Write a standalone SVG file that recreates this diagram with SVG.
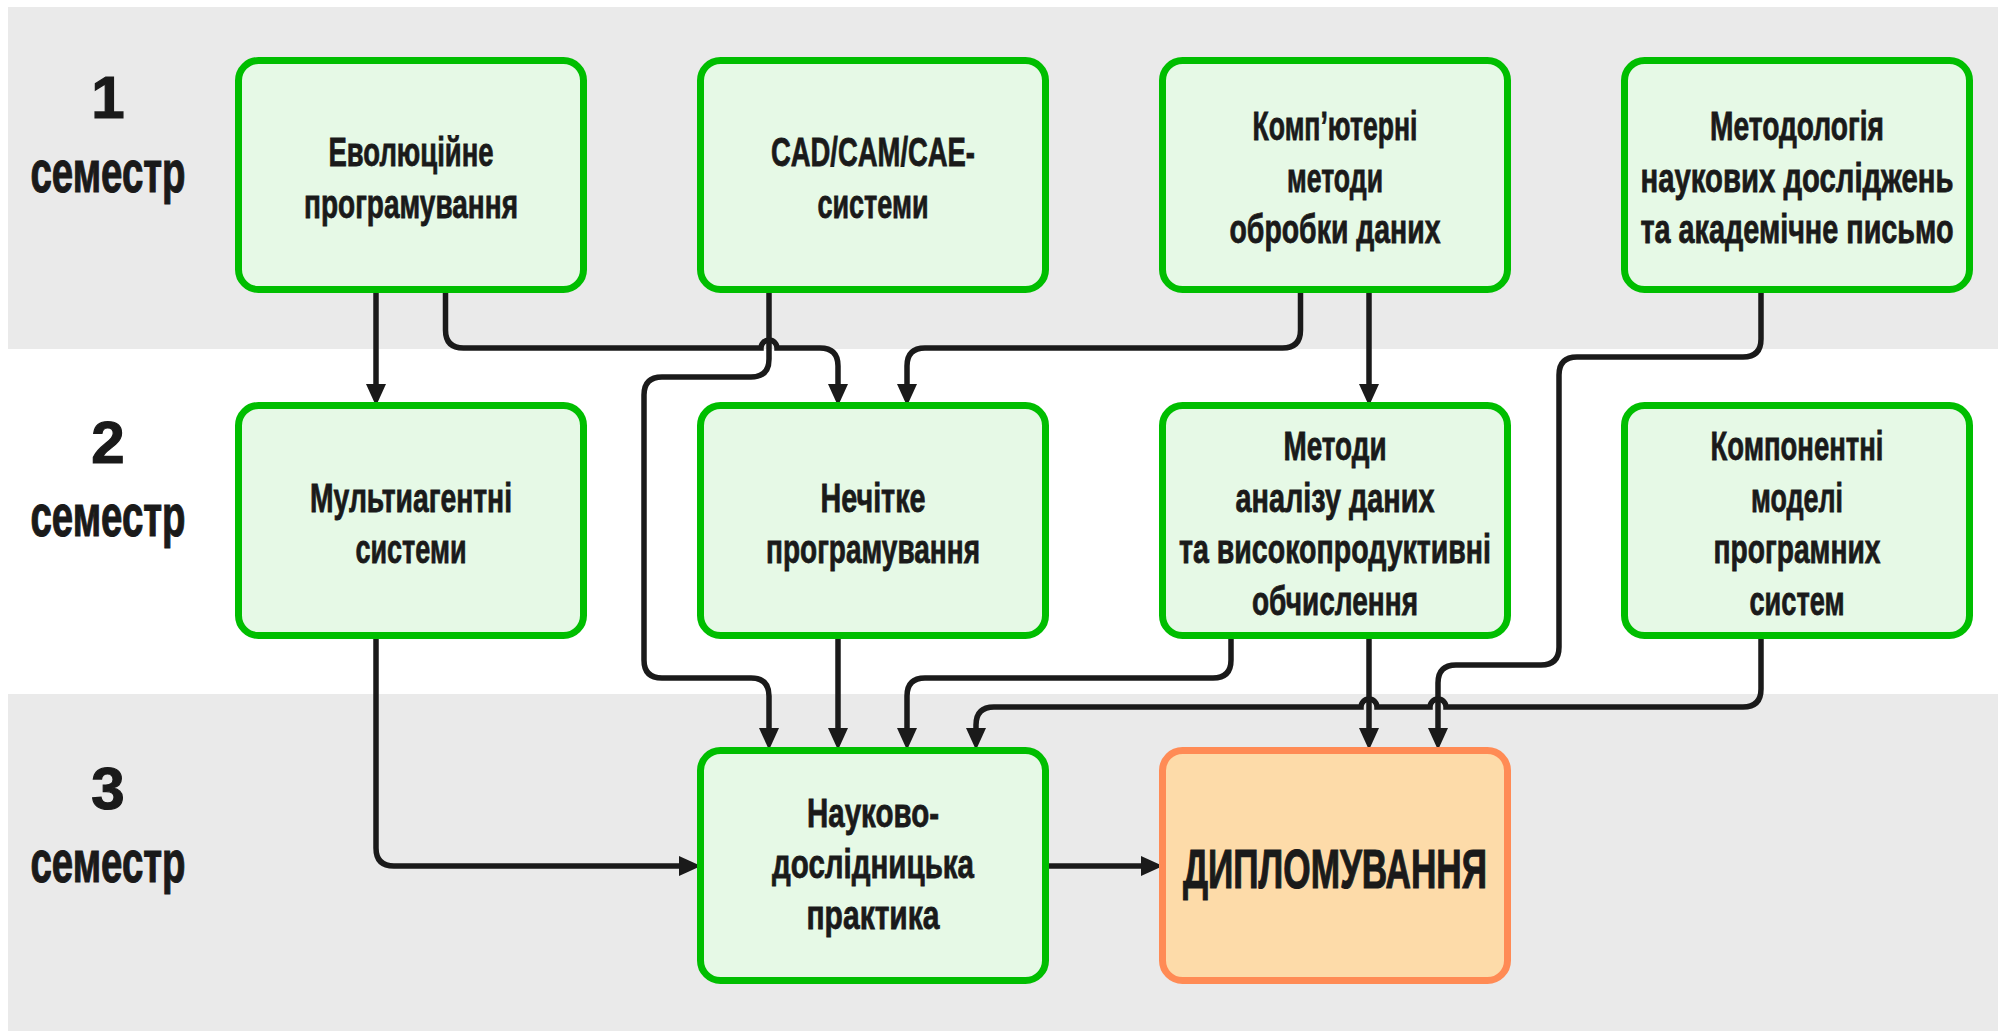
<svg xmlns="http://www.w3.org/2000/svg" width="2005" height="1032" viewBox="0 0 2005 1032">
<style>
text{font-family:"Liberation Sans Narrow","Liberation Sans",Arial,sans-serif;font-weight:bold;fill:#1a1a1a;text-anchor:middle;stroke:#1a1a1a;stroke-width:0.8}
.t{font-size:40px}
.lbl{font-size:60px;stroke-width:1.2}
.big{font-size:56px;stroke-width:1.2}
.g rect{fill:#E6F9E6;stroke:#00BE00;stroke-width:7}
.o rect{fill:#FDDBA9;stroke:#FF8B55;stroke-width:7}
.band{fill:#EAEAEA}
#connectors path{fill:none;stroke:#1a1a1a;stroke-width:5.5}
.arr{marker-end:url(#ah)}
</style>
<defs>
<marker id="ah" markerUnits="userSpaceOnUse" markerWidth="22" markerHeight="20" refX="12" refY="10" orient="auto" viewBox="0 0 22 20">
<path d="M0,0 L22,10 L0,20 Z" fill="#1a1a1a"/>
</marker>
</defs>
<rect width="2005" height="1032" fill="#fff"/>
<rect class="band" x="8" y="7" width="1990" height="342"/>
<rect class="band" x="8" y="694" width="1990" height="337"/>

<g id="labels">
<text class="lbl" x="108" y="118">1</text>
<text class="lbl" x="108" y="192" textLength="155" lengthAdjust="spacingAndGlyphs">семестр</text>
<text class="lbl" x="108" y="463">2</text>
<text class="lbl" x="108" y="536" textLength="155" lengthAdjust="spacingAndGlyphs">семестр</text>
<text class="lbl" x="108" y="809">3</text>
<text class="lbl" x="108" y="882" textLength="155" lengthAdjust="spacingAndGlyphs">семестр</text>
</g>

<g id="connectors">
<path class="arr" d="M376,293 V396"/>
<path class="arr" d="M445.5,293 V330 Q445.5,348 463.5,348 H761 A8,8 0 0 1 777,348 H820 Q838,348 838,366 V396"/>
<path class="arr" d="M769,293 V359 Q769,377 751,377 H662 Q644,377 644,395 V660 Q644,678 662,678 H751 Q769,678 769,696 V740"/>
<path class="arr" d="M1300.5,293 V330 Q1300.5,348 1282.5,348 H925 Q907,348 907,366 V396"/>
<path class="arr" d="M1369,293 V396"/>
<path class="arr" d="M1761,293 V339 Q1761,357 1743,357 H1577 Q1559,357 1559,375 V647 Q1559,665 1541,665 H1456 Q1438,665 1438,683 V740"/>
<path class="arr" d="M1761,639 V689 Q1761,707 1743,707 H1446 A8,8 0 0 0 1430,707 H1377 A8,8 0 0 0 1361,707 H994 Q976,707 976,725 V740"/>
<path class="arr" d="M1369,639 V740"/>
<path class="arr" d="M1231,639 V660 Q1231,678 1213,678 H925 Q907,678 907,696 V740"/>
<path class="arr" d="M838,639 V740"/>
<path class="arr" d="M376,639 V848 Q376,866 394,866 H691"/>
<path class="arr" d="M1049,866 H1153"/>
</g>

<g id="n1" class="g"><rect x="238.5" y="60.5" width="345" height="229" rx="20"/>
<text class="t" x="411" y="166" textLength="165" lengthAdjust="spacingAndGlyphs">Еволюційне</text>
<text class="t" x="411" y="218" textLength="214" lengthAdjust="spacingAndGlyphs">програмування</text></g>

<g id="n2" class="g"><rect x="700.5" y="60.5" width="345" height="229" rx="20"/>
<text class="t" x="873" y="166" textLength="204" lengthAdjust="spacingAndGlyphs">CAD/CAM/CAE-</text>
<text class="t" x="873" y="218" textLength="111" lengthAdjust="spacingAndGlyphs">системи</text></g>

<g id="n3" class="g"><rect x="1162.5" y="60.5" width="345" height="229" rx="20"/>
<text class="t" x="1335" y="140" textLength="165" lengthAdjust="spacingAndGlyphs">Комп’ютерні</text>
<text class="t" x="1335" y="192" textLength="96" lengthAdjust="spacingAndGlyphs">методи</text>
<text class="t" x="1335" y="243" textLength="211" lengthAdjust="spacingAndGlyphs">обробки даних</text></g>

<g id="n4" class="g"><rect x="1624.5" y="60.5" width="345" height="229" rx="20"/>
<text class="t" x="1797" y="140" textLength="174" lengthAdjust="spacingAndGlyphs">Методологія</text>
<text class="t" x="1797" y="192" textLength="313" lengthAdjust="spacingAndGlyphs">наукових досліджень</text>
<text class="t" x="1797" y="243" textLength="313" lengthAdjust="spacingAndGlyphs">та академічне письмо</text></g>

<g id="n5" class="g"><rect x="238.5" y="405.5" width="345" height="230" rx="20"/>
<text class="t" x="411" y="512" textLength="202" lengthAdjust="spacingAndGlyphs">Мультиагентні</text>
<text class="t" x="411" y="563" textLength="111" lengthAdjust="spacingAndGlyphs">системи</text></g>

<g id="n6" class="g"><rect x="700.5" y="405.5" width="345" height="230" rx="20"/>
<text class="t" x="873" y="512" textLength="105" lengthAdjust="spacingAndGlyphs">Нечітке</text>
<text class="t" x="873" y="563" textLength="214" lengthAdjust="spacingAndGlyphs">програмування</text></g>

<g id="n7" class="g"><rect x="1162.5" y="405.5" width="345" height="230" rx="20"/>
<text class="t" x="1335" y="460" textLength="103" lengthAdjust="spacingAndGlyphs">Методи</text>
<text class="t" x="1335" y="512" textLength="199" lengthAdjust="spacingAndGlyphs">аналізу даних</text>
<text class="t" x="1335" y="563" textLength="312" lengthAdjust="spacingAndGlyphs">та високопродуктивні</text>
<text class="t" x="1335" y="615" textLength="166" lengthAdjust="spacingAndGlyphs">обчислення</text></g>

<g id="n8" class="g"><rect x="1624.5" y="405.5" width="345" height="230" rx="20"/>
<text class="t" x="1797" y="460" textLength="173" lengthAdjust="spacingAndGlyphs">Компонентні</text>
<text class="t" x="1797" y="512" textLength="92" lengthAdjust="spacingAndGlyphs">моделі</text>
<text class="t" x="1797" y="563" textLength="167" lengthAdjust="spacingAndGlyphs">програмних</text>
<text class="t" x="1797" y="615" textLength="95" lengthAdjust="spacingAndGlyphs">систем</text></g>

<g id="n9" class="g"><rect x="700.5" y="750.5" width="345" height="230" rx="20"/>
<text class="t" x="873" y="827" textLength="132" lengthAdjust="spacingAndGlyphs">Науково-</text>
<text class="t" x="873" y="878" textLength="202" lengthAdjust="spacingAndGlyphs">дослідницька</text>
<text class="t" x="873" y="929" textLength="133" lengthAdjust="spacingAndGlyphs">практика</text></g>

<g id="n10" class="o"><rect x="1162.5" y="750.5" width="345" height="230" rx="20"/>
<text class="big" x="1335" y="888" textLength="304" lengthAdjust="spacingAndGlyphs">ДИПЛОМУВАННЯ</text></g>
</svg>
